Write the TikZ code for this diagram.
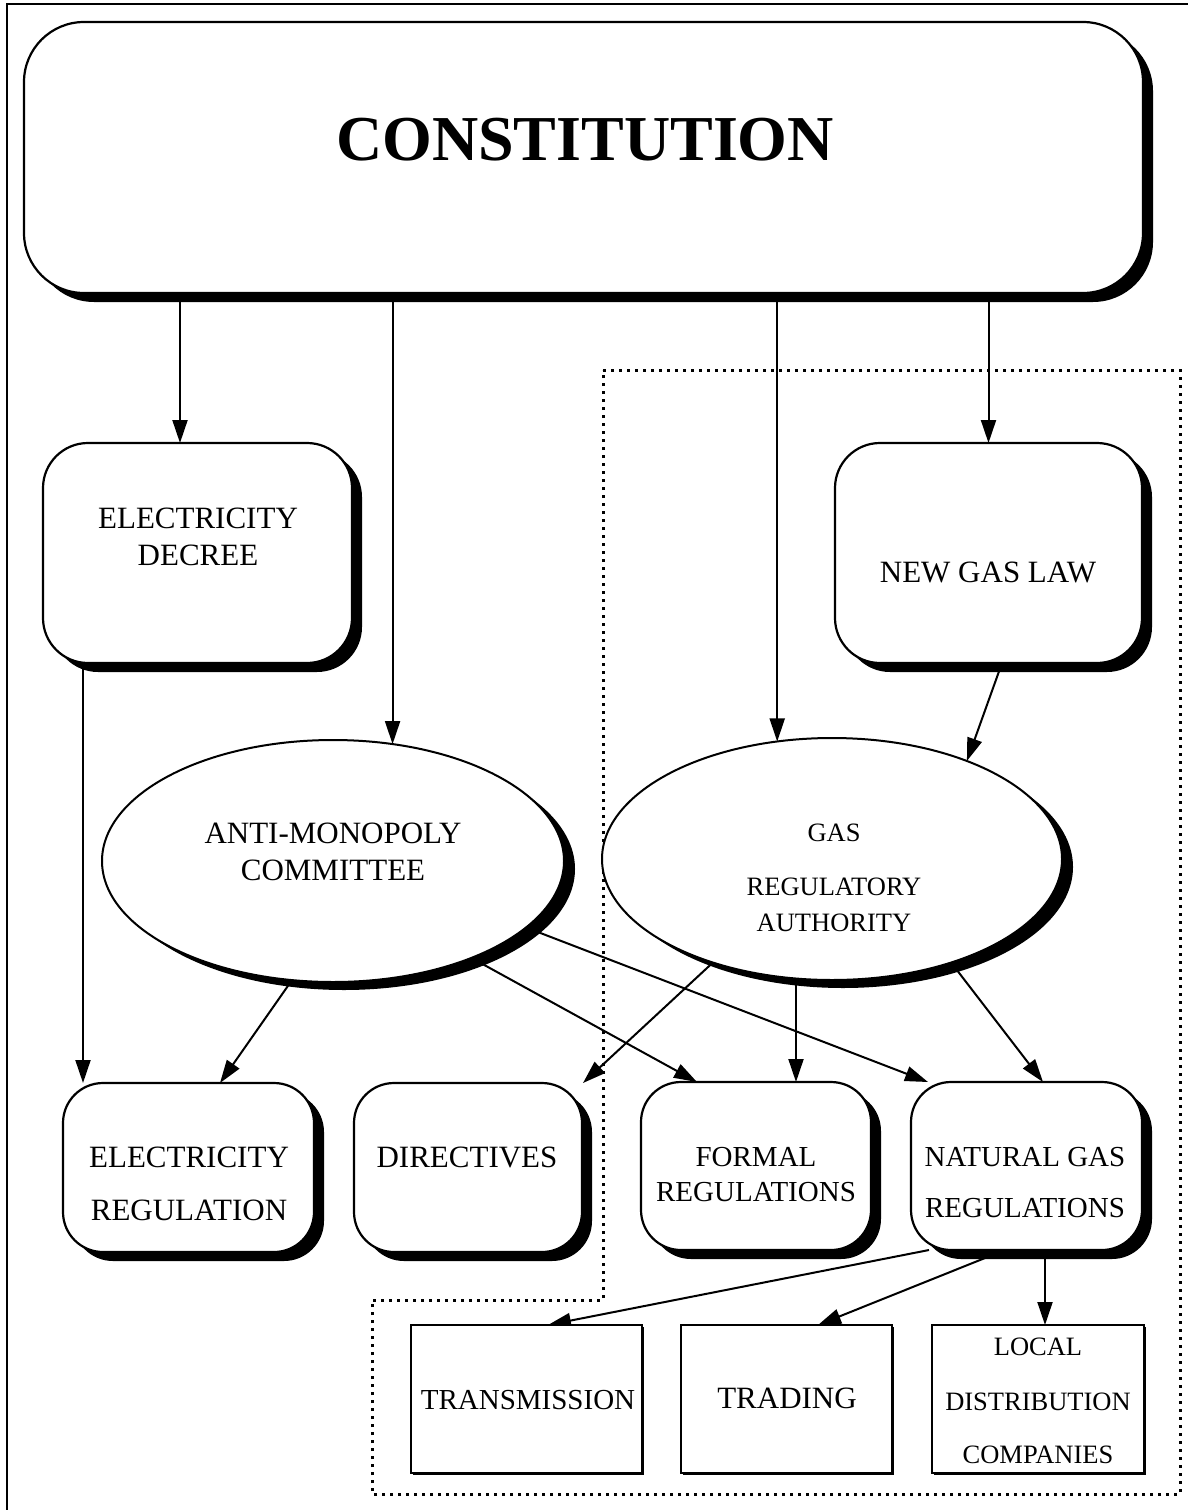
\documentclass[tikz,border=0pt]{standalone}
\usepackage{fontspec}
\setmainfont{Liberation Serif}
\usetikzlibrary{shapes.geometric,shadows,arrows.meta}
\pgfdeclarelayer{paper}
\pgfdeclarelayer{background}
\pgfsetlayers{paper,background,main}
\begin{document}
\begin{tikzpicture}[x=1pt,y=-1pt,
  rbox/.style={draw, line width=2.2pt, fill=white, rounded corners=#1, inner sep=0pt, outer sep=0pt,
    drop shadow={shadow xshift=10pt, shadow yshift=-9pt, opacity=1, fill=black}},
  ell/.style={ellipse, draw, line width=2pt, fill=white, inner sep=0pt, outer sep=0pt,
    minimum width=462pt, minimum height=242pt,
    drop shadow={shadow xshift=11pt, shadow yshift=-8pt, opacity=1, fill=black}},
  sbox/.style={draw, line width=1.8pt, fill=white, inner sep=0pt, outer sep=0pt,
    drop shadow={shadow xshift=1.5pt, shadow yshift=-1.5pt, opacity=1, fill=black}},
  lblA/.style={inner sep=0pt, font=\fontsize{31}{37}\selectfont},
  lblB/.style={inner sep=0pt, font=\fontsize{29}{35}\selectfont},
  lblC/.style={inner sep=0pt, font=\fontsize{26.5}{32}\selectfont},
  arr/.style={line width=2pt, -{Triangle[length=23pt,width=15pt]}},
  dotreg/.style={line width=3pt, dash pattern=on 3pt off 5pt},
  frame/.style={line width=2.4pt}
]
\useasboundingbox (0,0) rectangle (1188,1510);
\begin{pgfonlayer}{paper}
\fill[white] (0,0) rectangle (1188,1510);
\end{pgfonlayer}
\draw[frame] (7,1512) -- (7,4) -- (1190,4);

% shapes
\node[rbox=60pt, minimum width=1119pt, minimum height=271pt] (cons) at (583.5,157.5) {};
\node[rbox=45pt, minimum width=309pt, minimum height=220pt] (decree) at (197.5,553) {};
\node[rbox=45pt, minimum width=307pt, minimum height=220pt] (newgas) at (988.5,553) {};
\node[ell] (am) at (333,861) {};
\node[ell, minimum width=460pt] (gra) at (832,859) {};
\node[rbox=40pt, minimum width=251pt, minimum height=169pt] (elreg) at (188.5,1167.5) {};
\node[rbox=40pt, minimum width=228pt, minimum height=169pt] (dir) at (468,1167.5) {};
\node[rbox=40pt, minimum width=230pt, minimum height=168pt] (formal) at (756,1166) {};
\node[rbox=40pt, minimum width=231pt, minimum height=168pt] (ngr) at (1026.5,1166) {};
\node[sbox, minimum width=231pt, minimum height=148pt] (trans) at (526.5,1399) {};
\node[sbox, minimum width=211pt, minimum height=148pt] (trad) at (786.5,1399) {};
\node[sbox, minimum width=212pt, minimum height=148pt] (ldc) at (1038,1399) {};

% texts
\node[inner sep=0pt, font=\fontsize{64}{70}\selectfont\bfseries] (consT) at (585,140) {CONSTITUTION};
\node[lblA] (decT1) at (198,518) {ELECTRICITY};
\node[lblA] (decT2) at (198,555) {DECREE};
\node[lblA] (ngT) at (988,572) {NEW GAS LAW};
\node[lblA] (amT1) at (333,833) {ANTI-MONOPOLY};
\node[lblA] (amT2) at (333,870) {COMMITTEE};
\node[lblC] (graT1) at (834,833) {GAS};
\node[lblC] (graT2) at (834,887) {REGULATORY};
\node[lblC] (graT3) at (834,923) {AUTHORITY};
\node[lblA] (erT1) at (189,1157) {ELECTRICITY};
\node[lblA] (erT2) at (189,1210) {REGULATION};
\node[lblA] (dirT) at (467,1157) {DIRECTIVES};
\node[lblB] (frT1) at (756,1157) {FORMAL};
\node[lblB] (frT2) at (756,1192) {REGULATIONS};
\node[lblB] (ngrT1) at (1025,1157) {NATURAL GAS};
\node[lblB] (ngrT2) at (1025,1208) {REGULATIONS};
\node[lblB] (trT) at (528,1400) {TRANSMISSION};
\node[lblA] (tdT) at (787,1398) {TRADING};
\node[lblC] (ldT1) at (1038,1347) {LOCAL};
\node[lblC] (ldT2) at (1038,1402) {DISTRIBUTION};
\node[lblC] (ldT3) at (1038,1455) {COMPANIES};

\begin{pgfonlayer}{background}
% dotted region
\draw[dotreg] (603,370) -- (1180,370) -- (1180,1494) -- (372,1494) -- (372,1300) -- (603,1300) -- cycle;
% connectors
\draw[arr] ([xshift=-17.5pt]decree.north |- cons.south) -- ([xshift=-17.5pt]decree.north);
\draw[arr] (am.63.6 |- cons.south) -- (am.63.6);
\draw[arr] (gra.115.5 |- cons.south) -- (gra.115.5);
\draw[arr] (newgas.north |- cons.south) -- (newgas.north);
\draw[arr] ([xshift=13.5pt]newgas.south) -- (gra.36);
\draw[arr] ([xshift=-114.5pt]decree.south) -- ([xshift=-114.5pt]decree.south |- elreg.north);
\draw[arr] (am.251.7) -- ([xshift=31.5pt]elreg.north);
\draw[arr] (am.-35.5) -- ([xshift=-59pt]formal.north);
\draw[arr] (am.-19.7) -- ([xshift=-98.5pt]ngr.north);
\draw[arr] (gra.221.1) -- ([xshift=115pt]dir.north);
\draw[arr] ([xshift=40pt]formal.north |- gra.south) -- ([xshift=40pt]formal.north);
\draw[arr] (gra.-41.7) -- ([xshift=16.5pt]ngr.north);
\draw[arr] ([xshift=-97.5pt]ngr.south) -- ([xshift=21.5pt]trans.north);
\draw[arr] ([xshift=-21.5pt]ngr.south) -- ([xshift=31.5pt]trad.north);
\draw[arr] ([xshift=18.5pt]ngr.south) -- ([xshift=18.5pt]ngr.south |- ldc.north);
\end{pgfonlayer}
\end{tikzpicture}
\end{document}
